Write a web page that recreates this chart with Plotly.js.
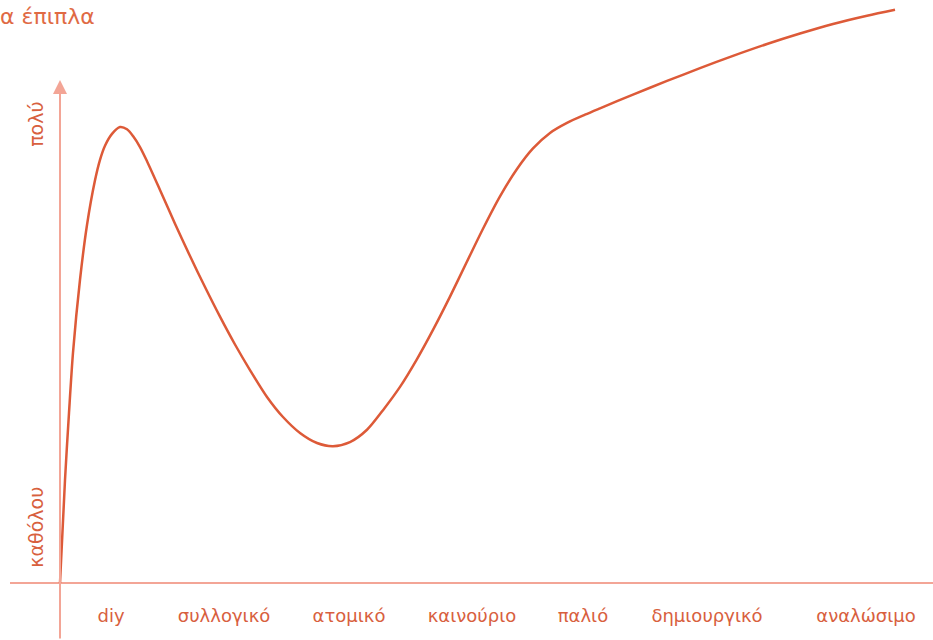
<!DOCTYPE html>
<html>
<head>
<meta charset="utf-8">
<script src="https://cdn.plot.ly/plotly-3.0.1.min.js"></script>
<style>html,body{margin:0;padding:0;background:#fff;}#chart{width:933px;height:640px;}</style>
</head>
<body>
<div id="chart"></div>
<script>
// Category labels along the horizontal axis and their positions
const categories = ["diy", "συλλογικό", "ατομικό", "καινούριο", "παλιό", "δημιουργικό", "αναλώσιμο"];
const categoryPos = [0.51, 1.64, 2.89, 4.12, 5.23, 6.47, 8.06];

// Vertical axis labels
const levelLabels = ["καθόλου", "πολύ"];
const levelPos = [11.6, 100];

// Curve
const curveX = [0, 0.05, 0.09, 0.13, 0.20, 0.27, 0.35, 0.40, 0.45, 0.52, 0.60, 0.67, 0.73, 0.80, 0.87,
  1.00, 1.15, 1.30, 1.45, 1.60, 1.75, 1.90, 2.07, 2.23, 2.40, 2.57, 2.73, 2.90, 3.07, 3.23,
  3.40, 3.57, 3.73, 3.90, 4.07, 4.23, 4.40, 4.57, 4.73, 4.90, 5.07, 5.25, 5.40,
  5.73, 6.07, 6.40, 6.73, 7.07, 7.40, 7.73, 8.07, 8.35];
const curveY = [0, 22.6, 37.3, 50.5, 66.5, 78.5, 88.3, 92.8, 95.9, 98.5, 100, 99.5, 98.0, 95.6, 92.5,
  86.2, 78.8, 71.7, 64.9, 58.4, 52.3, 46.7, 40.8, 36.4, 32.9, 30.7, 30.0, 30.9, 33.6, 37.9,
  43.0, 49.1, 55.5, 62.8, 70.5, 77.7, 84.8, 90.8, 95.3, 98.7, 100.9, 102.7, 104.1,
  107.1, 110.1, 112.9, 115.6, 118.2, 120.5, 122.6, 124.4, 125.7];

const titleText = "α έπιπλα";

const xRange = [-0.5, 8.73];
const yRange = [-12.5, 127.85];
const yArrowTop = 110.3;

const curveColor = "#dd5a38";
const axisColor = "#f3a596";
const labelColor = "#d8603e";
const fontFamily = "DejaVu Sans, Noto Sans, sans-serif";

const trace = {
  x: curveX, y: curveY, type: "scatter", mode: "lines",
  line: {color: curveColor, width: 2.5, shape: "spline", smoothing: 0.8},
  hoverinfo: "skip", showlegend: false
};

const layout = {
  width: 933, height: 640,
  margin: {l: 10, r: 0, t: 0, b: 0},
  paper_bgcolor: "#ffffff", plot_bgcolor: "#ffffff",
  font: {family: fontFamily, color: labelColor},
  title: {
    text: titleText, x: 0, xref: "container", xanchor: "left",
    y: 1 - 16 / 640, yref: "container", yanchor: "middle",
    font: {family: fontFamily, size: 22, color: "#e06a44"}
  },
  xaxis: {
    range: xRange, showgrid: false, zeroline: false, showline: false,
    tickmode: "array", tickvals: categoryPos, ticktext: categories,
    ticks: "", ticklabelstandoff: 20,
    anchor: "free", position: (0 - yRange[0]) / (yRange[1] - yRange[0]),
    tickfont: {size: 18, color: labelColor}, automargin: false, fixedrange: true
  },
  yaxis: {
    range: yRange, showgrid: false, zeroline: true, zerolinecolor: axisColor, zerolinewidth: 2,
    showline: false, tickmode: "array", tickvals: levelPos, ticktext: levelLabels,
    tickangle: -90, ticks: "", ticklabelstandoff: 13,
    anchor: "free", position: (0 - xRange[0]) / (xRange[1] - xRange[0]),
    tickfont: {size: 19, color: labelColor}, automargin: false, fixedrange: true
  },
  annotations: [{
    x: 0, y: yArrowTop, xref: "x", yref: "y",
    ax: 0, ay: yRange[0], axref: "x", ayref: "y",
    text: "", showarrow: true, arrowhead: 2, arrowsize: 1.4, arrowwidth: 2, arrowcolor: axisColor
  }]
};

Plotly.newPlot("chart", [trace], layout, {displayModeBar: false, staticPlot: true});
</script>
</body>
</html>
